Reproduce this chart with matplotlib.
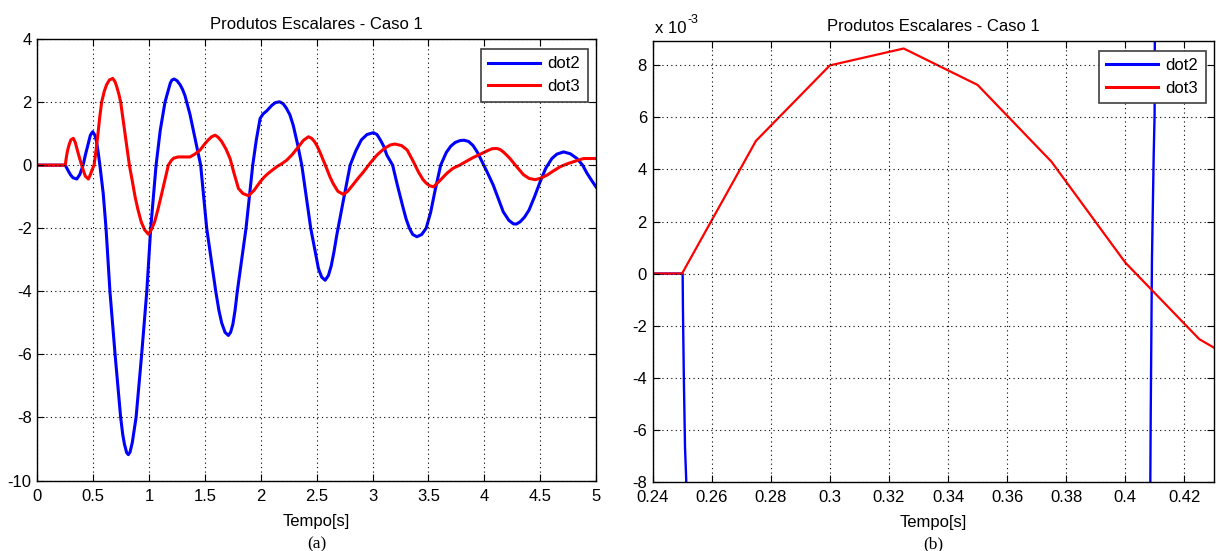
import matplotlib
matplotlib.use('Agg')
import matplotlib.pyplot as plt

# ---------------- data: panel (a) ----------------
dot2_t = [0.0, 0.25, 0.265, 0.28, 0.30, 0.32, 0.353, 0.38, 0.41, 0.43, 0.45,
          0.475, 0.496, 0.515, 0.53, 0.545, 0.56, 0.59, 0.615, 0.65, 0.696,
          0.746, 0.765, 0.78, 0.80, 0.815, 0.83, 0.85, 0.865, 0.884, 0.934,
          0.98, 1.015, 1.063, 1.10, 1.143, 1.17, 1.19, 1.205, 1.224, 1.25,
          1.278, 1.30, 1.322, 1.367, 1.42, 1.462, 1.516, 1.597, 1.625, 1.65,
          1.68, 1.71, 1.73, 1.75, 1.77, 1.79, 1.868, 1.928, 1.96, 1.994, 2.02,
          2.053, 2.1, 2.13, 2.167, 2.2, 2.23, 2.26, 2.29, 2.33, 2.367, 2.447,
          2.516, 2.545, 2.576, 2.605, 2.63, 2.655, 2.68, 2.74, 2.80, 2.85,
          2.9, 2.95, 3.008, 3.04, 3.07, 3.1, 3.128, 3.18, 3.22, 3.27, 3.30,
          3.33, 3.36, 3.397, 3.44, 3.48, 3.52, 3.56, 3.61, 3.66, 3.7, 3.74,
          3.784, 3.82, 3.86, 3.9, 3.94, 3.98, 4.03, 4.08, 4.13, 4.17, 4.22,
          4.26, 4.286, 4.32, 4.36, 4.40, 4.45, 4.50, 4.55, 4.605, 4.65, 4.71,
          4.77, 4.83, 4.88, 4.92, 4.96, 5.0]
dot2_v = [0.0, 0.0, -0.1, -0.2, -0.32, -0.4, -0.44, -0.3, 0.0, 0.32, 0.6,
          0.95, 1.06, 0.95, 0.75, 0.4, 0.0, -0.9, -2.0, -4.0, -6.0,
          -8.0, -8.55, -8.85, -9.12, -9.18, -9.1, -8.8, -8.45, -8.0, -6.0,
          -4.0, -2.0, 0.0, 1.1, 2.0, 2.35, 2.6, 2.7, 2.73, 2.68,
          2.55, 2.4, 2.2, 1.6, 0.7, 0.0, -2.0, -4.0, -4.6, -5.0,
          -5.3, -5.4, -5.3, -5.05, -4.6, -4.0, -2.0, 0.0, 0.8, 1.48, 1.62,
          1.72, 1.9, 1.98, 2.01, 1.95, 1.8, 1.6, 1.27, 0.65, 0.0, -2.0,
          -3.28, -3.55, -3.65, -3.5, -3.2, -2.75, -2.22, -1.1, 0.0, 0.45,
          0.8, 0.97, 1.03, 0.97, 0.8, 0.6, 0.32, 0.0, -0.6, -1.3, -1.7,
          -2.0, -2.2, -2.27, -2.2, -2.0, -1.5, -0.8, 0.0, 0.4, 0.6, 0.72,
          0.78, 0.79, 0.75, 0.62, 0.4, 0.11, -0.25, -0.63, -1.1, -1.48, -1.75,
          -1.86, -1.87, -1.8, -1.65, -1.43, -1.0, -0.53, -0.1, 0.21, 0.35, 0.42,
          0.36, 0.21, 0.0, -0.26, -0.48, -0.69]

dot3_t = [0.0, 0.25, 0.26, 0.27, 0.285, 0.3, 0.322, 0.34, 0.36, 0.38, 0.397,
          0.415, 0.43, 0.457, 0.475, 0.49, 0.508, 0.525, 0.54, 0.558, 0.576,
          0.6, 0.62, 0.645, 0.675, 0.695, 0.71, 0.73, 0.746, 0.785, 0.824,
          0.85, 0.875, 0.90, 0.93, 0.96, 0.994, 1.02, 1.05, 1.08, 1.107, 1.14,
          1.173, 1.20, 1.22, 1.26, 1.367, 1.41, 1.457, 1.50, 1.53, 1.56,
          1.591, 1.62, 1.65, 1.69, 1.725, 1.76, 1.80, 1.84, 1.89, 1.94, 1.994,
          2.03, 2.07, 2.143, 2.19, 2.233, 2.28, 2.33, 2.38, 2.426, 2.455, 2.48,
          2.505, 2.531, 2.56, 2.59, 2.62, 2.65, 2.69, 2.74, 2.78, 2.83, 2.87,
          2.92, 2.98, 3.04, 3.08, 3.12, 3.16, 3.20, 3.26, 3.31, 3.36, 3.41,
          3.45, 3.48, 3.51, 3.545, 3.6, 3.665, 3.72, 3.78, 3.844, 3.9, 3.96,
          4.03, 4.07, 4.11, 4.14, 4.17, 4.2, 4.23, 4.29, 4.35, 4.4, 4.455,
          4.5, 4.56, 4.62, 4.68, 4.74, 4.80, 4.85, 4.89, 5.0]
dot3_v = [0.0, 0.0, 0.25, 0.45, 0.65, 0.8, 0.85, 0.72, 0.45, 0.2, 0.0,
          -0.2, -0.35, -0.44, -0.3, -0.15, 0.0, 0.45, 0.9, 1.5, 2.0,
          2.35, 2.55, 2.7, 2.75, 2.65, 2.5, 2.25, 2.0, 1.0, 0.0,
          -0.5, -1.0, -1.4, -1.8, -2.05, -2.19, -2.05, -1.8, -1.4, -1.0, -0.5,
          0.0, 0.15, 0.22, 0.26, 0.26, 0.35, 0.48, 0.68, 0.8, 0.9,
          0.95, 0.88, 0.75, 0.5, 0.21, -0.25, -0.74, -0.9, -0.97, -0.8, -0.53,
          -0.38, -0.25, -0.05, 0.05, 0.16, 0.33, 0.55, 0.78, 0.90, 0.85, 0.75,
          0.6, 0.4, 0.15, -0.11, -0.38, -0.6, -0.83, -0.93, -0.82, -0.6, -0.42,
          -0.21, 0.07, 0.32, 0.45, 0.56, 0.64, 0.67, 0.62, 0.48, 0.15, -0.21,
          -0.45, -0.57, -0.65, -0.69, -0.5, -0.26, -0.1, 0.0, 0.13, 0.24, 0.34,
          0.46, 0.52, 0.53, 0.5, 0.42, 0.32, 0.21, -0.05, -0.30, -0.42, -0.46,
          -0.42, -0.32, -0.18, -0.05, 0.04, 0.11, 0.17, 0.21, 0.21]

# ---------------- data: panel (b) (values in units of 1e-3) ----------------
b_dot2_t = [0.24, 0.2502, 0.2503, 0.2506, 0.2510, 0.2514, 0.2516, 0.2530, 0.33,
            0.4083, 0.40845, 0.4086, 0.4090, 0.4096, 0.4099, 0.4100, 0.4102, 0.43]
b_dot2_v = [0.0, 0.0, -1.35, -3.98, -6.67, -7.9, -9.0, -20.0, -400.0,
            -20.0, -8.0, -5.25, 0.5, 4.6, 6.1, 10.0, 20.0, 300.0]
b_dot3_t = [0.24, 0.25, 0.275, 0.3, 0.325, 0.35, 0.375, 0.40, 0.425, 0.43]
b_dot3_v = [0.0, 0.0, 5.1, 8.0, 8.65, 7.25, 4.3, 0.42, -2.52, -2.85]

a_xticks = [0, 0.5, 1, 1.5, 2, 2.5, 3, 3.5, 4, 4.5, 5]
a_xlabels = ['0', '0.5', '1', '1.5', '2', '2.5', '3', '3.5', '4', '4.5', '5']
a_yticks = [-10, -8, -6, -4, -2, 0, 2, 4]
b_xticks = [0.24, 0.26, 0.28, 0.30, 0.32, 0.34, 0.36, 0.38, 0.40, 0.42]
b_xlabels = ['0.24', '0.26', '0.28', '0.3', '0.32', '0.34', '0.36', '0.38', '0.4', '0.42']
b_yticks = [-8, -6, -4, -2, 0, 2, 4, 6, 8]

title = 'Produtos Escalares - Caso 1'
series_names = ['dot2', 'dot3']

# ---------------- figure ----------------
plt.rcParams['font.family'] = ['Liberation Sans', 'DejaVu Sans']
W, H = 1219, 551
fig = plt.figure(figsize=(W / 100, H / 100), dpi=100)


def axpos(x0, x1, ytop, ybot):
    return [x0 / W, 1 - ybot / H, (x1 - x0) / W, (ybot - ytop) / H]


ax1 = fig.add_axes(axpos(37.3, 596, 39, 480.5))
ax2 = fig.add_axes(axpos(652.5, 1214, 40.7, 481.7))


def style(ax):
    ax.tick_params(direction='in', length=5, width=0.8, top=True, right=True,
                   labelsize=12, colors='black')
    ax.tick_params(axis='x', pad=6)
    ax.tick_params(axis='y', pad=4)
    ax.grid(True, color='black', linestyle=(0, (1, 3)), linewidth=0.8)
    ax.set_axisbelow(False)
    for s in ax.spines.values():
        s.set_linewidth(1.0)
        s.set_color('black')
    ax.set_title(title, fontsize=12, pad=7)
    ax.set_xlabel('Tempo[s]', fontsize=12, labelpad=7)


# panel (a)
ax1.plot(dot2_t, dot2_v, color='#0000ff', lw=2.2, label=series_names[0])
ax1.plot(dot3_t, dot3_v, color='#ff0000', lw=2.2, label=series_names[1])
ax1.set_xlim(0, 5)
ax1.set_ylim(-10, 4)
ax1.set_xticks(a_xticks)
ax1.set_xticklabels(a_xlabels)
ax1.set_yticks(a_yticks)
ax1.set_yticklabels([str(v) for v in a_yticks])
style(ax1)

# panel (b)
ax2.plot(b_dot2_t, b_dot2_v, color='#0000ff', lw=1.7, label=series_names[0])
ax2.plot(b_dot3_t, b_dot3_v, color='#ff0000', lw=1.6, label=series_names[1])
ax2.set_xlim(0.24, 0.43)
ax2.set_ylim(-8, 8.95)
ax2.set_xticks(b_xticks)
ax2.set_xticklabels(b_xlabels)
ax2.set_yticks(b_yticks)
ax2.set_yticklabels([str(v) for v in b_yticks])
style(ax2)

for ax, aw, ah in [(ax1, 558.7, 441.5), (ax2, 561.5, 441.0)]:
    leg = ax.legend(loc='upper right', bbox_to_anchor=(1 - 8.5 / aw, 1 - 10 / ah),
                    borderaxespad=0, fontsize=12, handlelength=3.1,
                    handletextpad=0.45, borderpad=0.45, labelspacing=0.45,
                    fancybox=False, framealpha=1)
    leg.get_frame().set_edgecolor('0.25')
    leg.get_frame().set_linewidth(1.2)
    for line in leg.get_lines():
        line.set_linewidth(2.2)

# multiplier label for panel (b)
fig.text(655 / W, 1 - 33 / H, 'x 10', fontsize=12, ha='left', va='baseline')
fig.text(687 / W, 1 - 23 / H, '-3', fontsize=9, ha='left', va='baseline')

# panel captions
fig.text(317 / W, 1 - 544 / H, '(a)', fontsize=12.5, family='Liberation Serif',
         ha='center', va='center')
fig.text(933 / W, 1 - 544 / H, '(b)', fontsize=12.5, family='Liberation Serif',
         ha='center', va='center')

fig.savefig('out.png', dpi=100)
